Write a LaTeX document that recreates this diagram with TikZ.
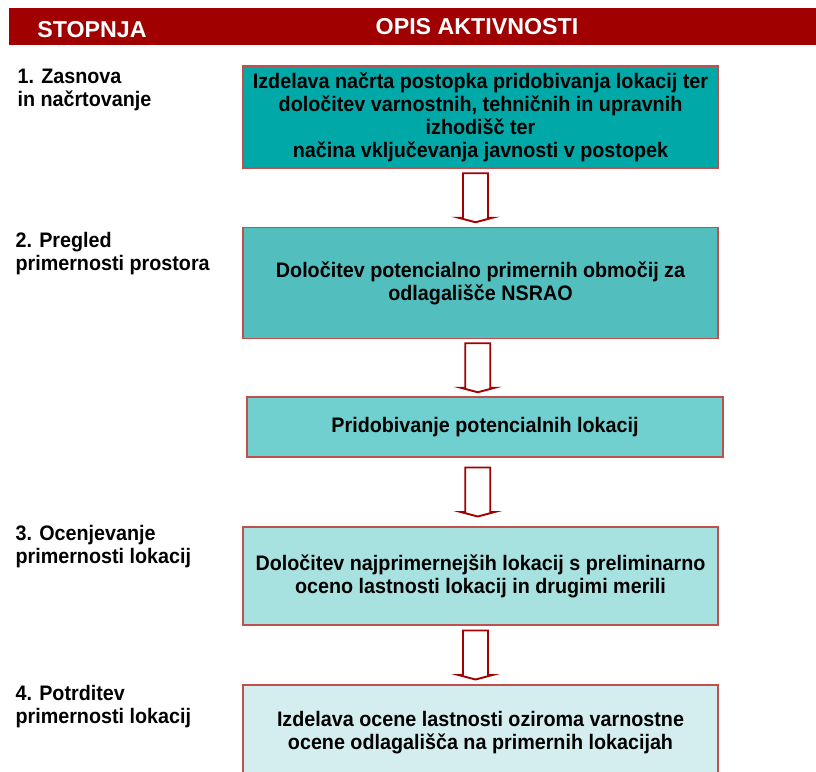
\documentclass[tikz,border=0pt]{standalone}
\usepackage{fontspec}
\setmainfont{Liberation Sans}[FakeStretch=0.94]
\newfontfamily\headfont{Liberation Sans}[FakeStretch=1.01]
\usetikzlibrary{calc,positioning}
\definecolor{headred}{RGB}{160,0,0}
\definecolor{edgered}{RGB}{192,80,77}
\definecolor{arrowred}{RGB}{165,0,0}
\definecolor{tealA}{RGB}{0,168,168}
\definecolor{tealB}{RGB}{82,190,190}
\definecolor{tealC}{RGB}{112,208,208}
\definecolor{tealD}{RGB}{168,226,224}
\definecolor{tealE}{RGB}{212,238,240}
\tikzset{
  stage/.style={
      rectangle,
      draw=edgered,
      line width=1.5pt,
      minimum width=475pt,
      align=center,
      font=\bfseries\fontsize{21}{23}\selectfont
  },
  label/.style={
      align=left,
      anchor=north west,
      font=\bfseries\fontsize{21}{23}\selectfont
  },
  hollow/.style={
      draw=arrowred,
      fill=white,
      line width=1.9pt,
      line join=miter
  }
}
% hollow block arrow between two stages
\newcommand{\stagearrow}[2]{
  \draw[hollow] let \p1=($(#1.south)!0.5!(#2.north)$) in
    (\x1-5-12.5,\y1+24.5) -- (\x1-5+12.5,\y1+24.5) -- (\x1-5+12.5,\y1-20)
    -- (\x1-5+17,\y1-20) -- (\x1-5,\y1-24.5) -- (\x1-5-17,\y1-20)
    -- (\x1-5-12.5,\y1-20) -- cycle;
}

\begin{document}
\begin{tikzpicture}[x=1pt,y=1pt]
    \useasboundingbox (0,0) rectangle (816,-771);
    % header band
    \fill[headred] (9,-8) rectangle (816,-45);
    \node[text=white,font=\headfont\bfseries\fontsize{23}{25}\selectfont] (stopnja) at (92,-30) {STOPNJA};
    \node[text=white,font=\headfont\bfseries\fontsize{23}{25}\selectfont] (opis) at (477,-27) {OPIS AKTIVNOSTI};

    % activity boxes
    \node[stage,fill=tealA,minimum height=102pt] (zasnova) at (480.5,-117)
      {Izdelava načrta postopka pridobivanja lokacij ter\\
       določitev varnostnih, tehničnih in upravnih\\
       izhodišč ter\\
       načina vključevanja javnosti v postopek};
    \node[stage,fill=tealB,minimum height=111pt] (pregled) at (480.5,-283)
      {Določitev potencialno primernih območij za\\
       odlagališče NSRAO};
    \node[stage,fill=tealC,minimum height=60pt,minimum width=476pt] (pridobivanje) at (485,-427)
      {Pridobivanje potencialnih lokacij};
    \node[stage,fill=tealD,minimum height=98pt] (ocenjevanje) at (480.5,-576)
      {Določitev najprimernejših lokacij s preliminarno\\
       oceno lastnosti lokacij in drugimi merili};
    \node[stage,fill=tealE,minimum height=96pt] (potrditev) at (480.5,-733)
      {Izdelava ocene lastnosti oziroma varnostne\\
       ocene odlagališča na primernih lokacijah};

    % stage labels
    \node[label] (l1) at (14,-66) {1. Zasnova\\in načrtovanje};
    \node[label] (l2) at (12,-229) {2. Pregled\\primernosti prostora};
    \node[label] (l3) at (12,-522) {3. Ocenjevanje\\primernosti lokacij};
    \node[label] (l4) at (12,-682) {4. Potrditev\\primernosti lokacij};

    % arrows
    \stagearrow{zasnova}{pregled}
    \stagearrow{pregled}{pridobivanje}
    \stagearrow{pridobivanje}{ocenjevanje}
    \stagearrow{ocenjevanje}{potrditev}
\end{tikzpicture}
\end{document}
